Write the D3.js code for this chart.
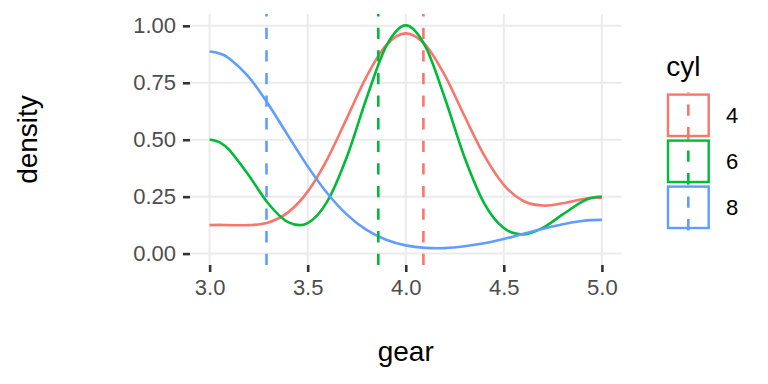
<html lang="en">
<head>
    <meta charset="UTF-8">
    <title>gear density by cyl</title>
    <script src="https://d3js.org/d3.v7.min.js"></script>
    <style>
        body { margin: 0; background: #fff; }
        text { font-family: "Liberation Sans", Arial, sans-serif; }
    </style>
</head>
<body>
    <script>
        // Chart data
        const cylGroups = ["4", "6", "8"];
        const gearGrid = [3.0, 3.05, 3.1, 3.2, 3.3, 3.4, 3.5, 3.6, 3.7, 3.8, 3.9, 4.0,
                          4.1, 4.2, 4.3, 4.4, 4.5, 4.6, 4.7, 4.8, 4.9, 4.95, 5.0];
        const density4 = [0.125, 0.126, 0.125, 0.125, 0.137, 0.181, 0.272, 0.415, 0.595, 0.777, 0.915, 0.967,
                          0.916, 0.781, 0.603, 0.431, 0.302, 0.231, 0.211, 0.221, 0.239, 0.245, 0.245];
        const density6 = [0.501, 0.489, 0.455, 0.343, 0.219, 0.138, 0.134, 0.229, 0.425, 0.682, 0.910, 1.002,
                          0.910, 0.681, 0.422, 0.221, 0.112, 0.084, 0.114, 0.172, 0.228, 0.245, 0.251];
        const density8 = [0.887, 0.879, 0.857, 0.775, 0.655, 0.518, 0.383, 0.265, 0.171, 0.104, 0.061, 0.036,
                          0.025, 0.024, 0.032, 0.045, 0.064, 0.087, 0.109, 0.129, 0.143, 0.147, 0.148];
        const gearMeans = [4.09, 3.86, 3.29];
        const xTicks = [3.0, 3.5, 4.0, 4.5, 5.0];
        const yTicks = [0, 0.25, 0.5, 0.75, 1.0];

        const w = 768;
        const h = 384;
        const colors = ["#F8766D", "#00BA38", "#619CFF"];

        // Panel box
        const panel = { left: 190, right: 621.5, top: 14, bottom: 265 };
        const lineW = 2.6;
        const dash = "11.3,11.3";

        const svg = d3.select("body")
                      .append("svg")
                      .attr("width", w)
                      .attr("height", h)
                      .attr("viewBox", [0, 0, w, h]);

        // Scales (ggplot style 5% expansion)
        const xScale = d3.scaleLinear()
            .domain([2.9, 5.1])
            .range([panel.left, panel.right]);

        const yScale = d3.scaleLinear()
            .domain([-0.0501, 1.0520])
            .range([panel.bottom, panel.top]);

        // Grid lines
        svg.append("g")
            .selectAll("line")
            .data(xTicks)
            .join("line")
            .attr("x1", d => xScale(d))
            .attr("x2", d => xScale(d))
            .attr("y1", panel.top)
            .attr("y2", panel.bottom)
            .attr("stroke", "#ebebeb")
            .attr("stroke-width", 2);

        svg.append("g")
            .selectAll("line")
            .data(yTicks)
            .join("line")
            .attr("x1", panel.left)
            .attr("x2", panel.right)
            .attr("y1", d => yScale(d))
            .attr("y2", d => yScale(d))
            .attr("stroke", "#ebebeb")
            .attr("stroke-width", 2);

        // Axes
        const xAxis = d3.axisBottom(xScale)
            .tickValues(xTicks)
            .tickFormat(d3.format(".1f"))
            .tickSize(7)
            .tickPadding(7);
        const gx = svg.append("g")
            .attr("transform", `translate(0, ${panel.bottom})`)
            .call(xAxis);

        const yAxis = d3.axisLeft(yScale)
            .tickValues(yTicks)
            .tickFormat(d3.format(".2f"))
            .tickSize(7)
            .tickPadding(7);
        const gy = svg.append("g")
            .attr("transform", `translate(${panel.left}, 0)`)
            .call(yAxis);

        [gx, gy].forEach(g => {
            g.select(".domain").remove();
            g.selectAll(".tick line").attr("stroke", "#333333").attr("stroke-width", 2.6);
            g.selectAll(".tick text")
                .attr("fill", "#4d4d4d")
                .style("font-size", "22px");
        });

        // Density curves
        const line = d3.line()
            .x((d, i) => xScale(gearGrid[i]))
            .y(d => yScale(d))
            .curve(d3.curveCatmullRom.alpha(0));

        const series = [density4, density6, density8];
        svg.append("g")
            .selectAll("path")
            .data(series)
            .join("path")
            .attr("d", d => line(d))
            .attr("fill", "none")
            .attr("stroke", (d, i) => colors[i])
            .attr("stroke-width", lineW);

        // Mean lines (drawn bottom to top like ggplot)
        svg.append("g")
            .selectAll("line")
            .data(gearMeans)
            .join("line")
            .attr("x1", d => xScale(d))
            .attr("x2", d => xScale(d))
            .attr("y1", panel.bottom)
            .attr("y2", panel.top)
            .attr("stroke", (d, i) => colors[i])
            .attr("stroke-width", lineW)
            .attr("stroke-dasharray", dash);

        // Axis titles
        svg.append("text")
            .attr("x", (panel.left + panel.right) / 2)
            .attr("y", 361)
            .attr("text-anchor", "middle")
            .style("font-size", "28px")
            .text("gear");

        svg.append("text")
            .attr("transform", `translate(37, ${(panel.top + panel.bottom) / 2}) rotate(-90)`)
            .attr("text-anchor", "middle")
            .style("font-size", "28px")
            .text("density");

        // Legend
        const legend = svg.append("g").attr("transform", "translate(665.3, 92.4)");
        const keySize = 46;

        legend.append("text")
            .attr("x", 1)
            .attr("y", -16.5)
            .style("font-size", "28px")
            .text("cyl");

        const keys = legend.selectAll("g.key")
            .data(cylGroups)
            .join("g")
            .attr("class", "key")
            .attr("transform", (d, i) => `translate(0, ${i * keySize})`);

        keys.append("rect")
            .attr("x", 2.7)
            .attr("y", 2.2)
            .attr("width", 40.7)
            .attr("height", 41.4)
            .attr("fill", "none")
            .attr("stroke", (d, i) => colors[i])
            .attr("stroke-width", 2.4);

        keys.append("line")
            .attr("x1", 23)
            .attr("x2", 23)
            .attr("y1", keySize)
            .attr("y2", 0)
            .attr("stroke", (d, i) => colors[i])
            .attr("stroke-width", lineW)
            .attr("stroke-dasharray", dash);

        keys.append("text")
            .attr("x", 60.7)
            .attr("y", keySize / 2 + 7.8)
            .style("font-size", "22px")
            .text(d => d);
    </script>
</body>
</html>
